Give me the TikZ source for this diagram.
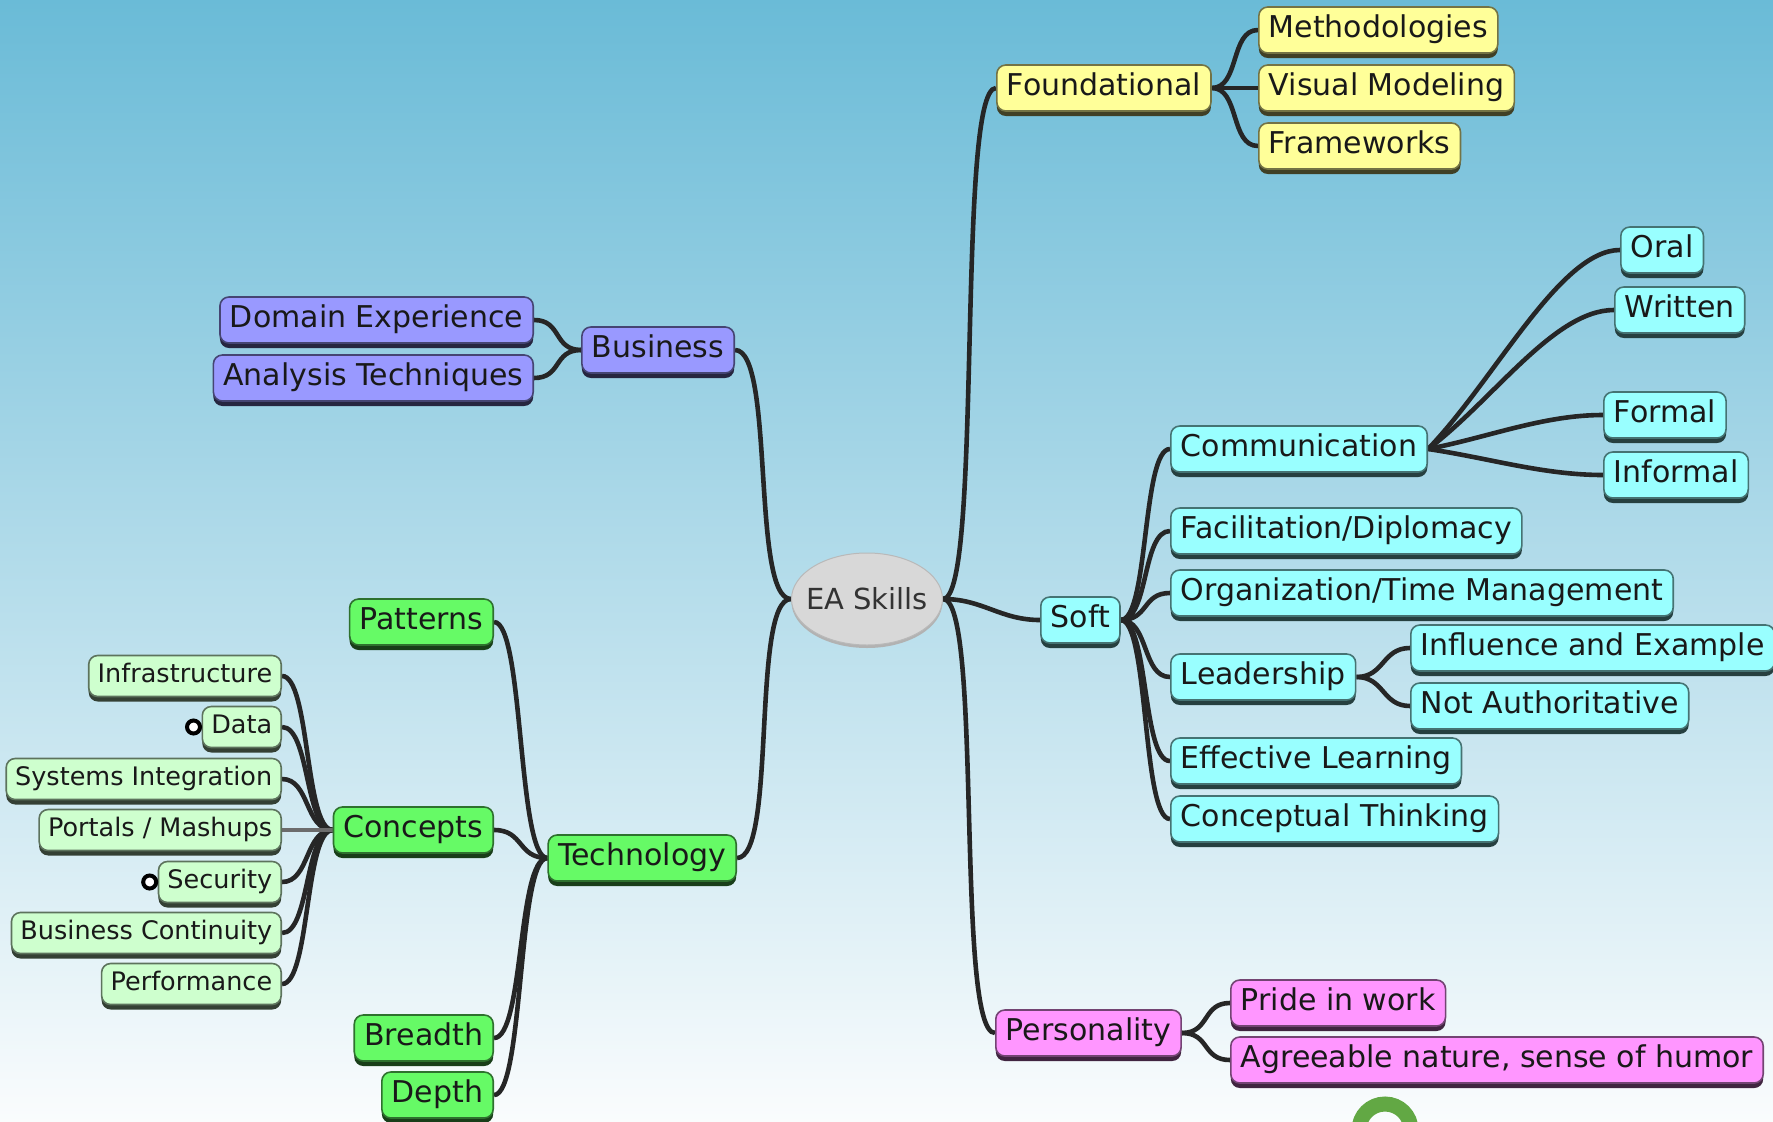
\documentclass[tikz,border=0pt]{standalone}
\usepackage{fontspec}
\setmainfont{DejaVu Sans}
\usetikzlibrary{shadows,shapes.geometric,calc}
\definecolor{bgtop}{RGB}{106,187,215}
\definecolor{bgmid}{RGB}{198,225,236}
\definecolor{bgbot}{RGB}{250,252,253}
\definecolor{cyanf}{RGB}{153,255,255}
\definecolor{yelf}{RGB}{255,255,153}
\definecolor{purf}{RGB}{153,153,255}
\definecolor{grnf}{RGB}{102,250,102}
\definecolor{lgrnf}{RGB}{206,255,206}
\definecolor{pinkf}{RGB}{255,150,255}
\definecolor{eaf}{RGB}{216,216,216}
\definecolor{ringc}{RGB}{98,168,68}
\pgfdeclarelayer{bgl}
\pgfdeclarelayer{edges}
\pgfsetlayers{bgl,edges,main}
\tikzset{
  mm/.style={rounded corners=9pt, fill=#1, draw=black!55!#1, line width=1.6pt,
    text=black!90, font=\fontsize{30}{35}\selectfont, minimum height=46pt,
    inner xsep=10pt, inner ysep=0pt, text height=21pt, text depth=6pt,
    drop shadow={shadow xshift=0pt, shadow yshift=-5pt, fill=black!75!#1, opacity=1}},
  leaf/.style={mm=lgrnf, font=\fontsize{25.5}{29}\selectfont, minimum height=41pt,
    text height=18pt, text depth=5pt, inner xsep=9pt},
  conn/.style={draw=black!85, line width=4.6pt},
  marker/.style={circle, draw=black, fill=white, line width=4pt, minimum size=13pt, inner sep=0pt}
}
\begin{document}
\begin{tikzpicture}[x=1pt,y=-1pt]
\useasboundingbox (0,0) rectangle (1773,1122);
\clip (0,0) rectangle (1773,1122);
\begin{pgfonlayer}{bgl}
\shade[top color=bgtop, middle color=bgmid, bottom color=bgbot] (0,0) rectangle (1773,1122);
\end{pgfonlayer}

% centre
\node[ellipse, fill=eaf, draw=gray!55, line width=1pt, minimum width=151pt, minimum height=92pt,
  inner sep=0pt, text=black!80, font=\fontsize{29}{34}\selectfont,
  drop shadow={shadow xshift=0pt, shadow yshift=-3pt, fill=gray!60, opacity=1}] (ea) at (867,599) {\makebox[0pt]{EA Skills}};

% right side
\node[mm=yelf, anchor=west] (found) at (996,88) {Foundational};
\node[mm=yelf, anchor=west] (meth) at (1258,30) {Methodologies};
\node[mm=yelf, anchor=west] (vis) at (1258,88) {Visual Modeling};
\node[mm=yelf, anchor=west] (frame) at (1258,146) {Frameworks};

\node[mm=cyanf, anchor=west] (soft) at (1040,620) {Soft};
\node[mm=cyanf, anchor=west] (comm) at (1170,449) {Communication};
\node[mm=cyanf, anchor=west] (facil) at (1170,531) {Facilitation/Diplomacy};
\node[mm=cyanf, anchor=west] (org) at (1170,593) {Organization/Time Management};
\node[mm=cyanf, anchor=west] (lead) at (1170,677) {Leadership};
\node[mm=cyanf, anchor=west] (infl) at (1410,648) {Influence and Example};
\node[mm=cyanf, anchor=west] (nota) at (1410,706) {Not Authoritative};
\node[mm=cyanf, anchor=west] (eff) at (1170,761) {Effective Learning};
\node[mm=cyanf, anchor=west] (conc) at (1170,819) {Conceptual Thinking};
\node[mm=cyanf, anchor=west] (oral) at (1620,250) {Oral};
\node[mm=cyanf, anchor=west] (writ) at (1614,310) {Written};
\node[mm=cyanf, anchor=west] (form) at (1603,415) {Formal};
\node[mm=cyanf, anchor=west] (inf) at (1603,475) {Informal};

\node[mm=pinkf, anchor=west] (pers) at (995,1033) {Personality};
\node[mm=pinkf, anchor=west] (pride) at (1230,1003) {Pride in work};
\node[mm=pinkf, anchor=west] (agree) at (1230,1060) {Agreeable nature, sense of humor};

% left side
\node[mm=purf, anchor=east] (bus) at (735,350) {Business};
\node[mm=purf, anchor=east] (dom) at (534,320) {Domain Experience};
\node[mm=purf, anchor=east] (ana) at (534,378) {Analysis Techniques};

\node[mm=grnf, anchor=east] (tech) at (737,858) {Technology};
\node[mm=grnf, anchor=east] (pat) at (494,622) {Patterns};
\node[mm=grnf, anchor=east] (concp) at (494,830) {Concepts};
\node[mm=grnf, anchor=east] (bre) at (494,1038) {Breadth};
\node[mm=grnf, anchor=east] (dep) at (494,1095) {Depth};

\node[leaf, anchor=east] (infra) at (282,676) {Infrastructure};
\node[leaf, anchor=east] (data) at (282,727) {Data};
\node[leaf, anchor=east] (sys) at (282,779) {Systems Integration};
\node[leaf, anchor=east] (port) at (282,830) {Portals / Mashups};
\node[leaf, anchor=east] (sec) at (282,882) {Security};
\node[leaf, anchor=east] (bc) at (282,933) {Business Continuity};
\node[leaf, anchor=east] (perf) at (282,984) {Performance};

\node[marker] (datam) at ([xshift=-8pt]data.west) {};
\node[marker] (secm) at ([xshift=-8pt]sec.west) {};

% bottom ring
\draw[ringc, line width=15pt] (1385,1130) circle[radius=26pt];

\begin{pgfonlayer}{edges}
\foreach \t in {found,soft,pers}
  \draw[conn] (ea.east) .. controls +(40,0) and +(-40,0) .. (\t.west);
\foreach \t in {bus,tech}
  \draw[conn] (ea.west) .. controls +(-40,0) and +(40,0) .. (\t.east);
\foreach \t in {meth,vis,frame}
  \draw[conn] (found.east) .. controls +(28,0) and +(-28,0) .. (\t.west);
\foreach \t in {comm,facil,org,lead,eff,conc}
  \draw[conn] (soft.east) .. controls +(28,0) and +(-28,0) .. (\t.west);
\foreach \t in {oral,writ,form,inf}
  \draw[conn] (comm.east) .. controls ($(comm.east)!0.35!(\t.west)$) and +(-60,0) .. (\t.west);
\foreach \t in {infl,nota}
  \draw[conn] (lead.east) .. controls +(28,0) and +(-28,0) .. (\t.west);
\foreach \t in {pride,agree}
  \draw[conn] (pers.east) .. controls +(28,0) and +(-28,0) .. (\t.west);
\foreach \t in {dom,ana}
  \draw[conn] (bus.west) .. controls +(-28,0) and +(28,0) .. (\t.east);
\foreach \t in {pat,concp,bre,dep}
  \draw[conn] (tech.west) .. controls +(-30,0) and +(30,0) .. (\t.east);
\foreach \t in {infra,data,sys,sec,bc,perf}
  \draw[conn] (concp.west) .. controls +(-28,0) and +(28,0) .. (\t.east);
\draw[conn, draw=gray!85!black] (concp.west) -- (port.east);
\end{pgfonlayer}
\end{tikzpicture}
\end{document}
